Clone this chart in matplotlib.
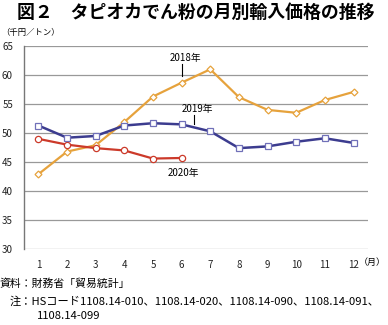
import matplotlib
matplotlib.use("Agg")
import matplotlib.pyplot as plt

plt.rcParams['font.family'] = ['Noto Sans CJK JP', 'DejaVu Sans']

# monthly import price (thousand yen / ton)
months = list(range(1, 13))
price_2018 = [42.9, 46.8, 47.9, 51.9, 56.3, 58.7, 61.0, 56.2, 54.0, 53.5, 55.7, 57.1]
price_2019 = [51.3, 49.2, 49.5, 51.3, 51.7, 51.5, 50.3, 47.4, 47.7, 48.5, 49.1, 48.3]
price_2020 = [49.0, 48.0, 47.4, 47.0, 45.6, 45.7]
yticks = [30, 35, 40, 45, 50, 55, 60, 65]

c2018 = '#E6A23C'
c2019 = '#3C3C8F'
c2020 = '#CC3A2A'

fig = plt.figure(figsize=(3.88, 3.25), dpi=100)
ax = fig.add_axes([0.062, 0.234, 0.886, 0.624])

ax.plot(months, price_2018, color=c2018, lw=1.6, marker='D', ms=3.5,
        mfc='white', mec=c2018, mew=0.9, zorder=3)
ax.plot(months, price_2019, color=c2019, lw=1.8, marker='s', ms=5,
        mfc='white', mec='#7070B8', mew=0.9, zorder=4)
ax.plot(months[:len(price_2020)], price_2020, color=c2020, lw=1.6, marker='o', ms=4.5,
        mfc='white', mec=c2020, mew=0.9, zorder=3)

ax.set_xlim(0.5, 12.5)
ax.set_ylim(30, 65)
ax.set_yticks(yticks)
ax.set_xticks(months)
ax.yaxis.grid(True, color='#999999', lw=0.9)
ax.set_axisbelow(True)
for s in ['top', 'right', 'bottom']:
    ax.spines[s].set_visible(False)
ax.spines['left'].set_color('#777777')
ax.spines['left'].set_linewidth(1.0)
ax.tick_params(length=0, labelsize=7, colors='#222222')
ax.tick_params(axis='x', pad=8)
ax.tick_params(axis='y', pad=8)

# series labels
ax.text(6.15, 62.9, '2018年', fontsize=7, ha='center', va='center')
ax.plot([6.0, 6.0], [59.8, 61.9], color='black', lw=0.8)
ax.text(6.55, 54.2, '2019年', fontsize=7, ha='center', va='center')
ax.plot([6.42, 6.42], [51.6, 53.1], color='black', lw=0.8)
ax.text(6.05, 43.1, '2020年', fontsize=7, ha='center', va='center')

fig.text(386 / 388, 1 - 262 / 325, '（月）', fontsize=6.5, ha='right', va='center')
fig.text(1 / 388, 1 - 33 / 325, '（千円／トン）', fontsize=6, ha='left', va='center')

fig.text(0.045, 1 - 13 / 325, '図２　タピオカでん粉の月別輸入価格の推移',
         fontsize=12.9, fontweight='bold', ha='left', va='center')

fig.text(0, 1 - 284 / 325, '資料：財務省「貿易統計」', fontsize=7.8, ha='left', va='center')
fig.text(10 / 388, 1 - 301 / 325, '注：HSコード1108.14-010、1108.14-020、1108.14-090、1108.14-091、',
         fontsize=8.1, ha='left', va='center')
fig.text(37 / 388, 1 - 316 / 325, '1108.14-099', fontsize=8.1, ha='left', va='center')

fig.savefig('out.png', dpi=100)
